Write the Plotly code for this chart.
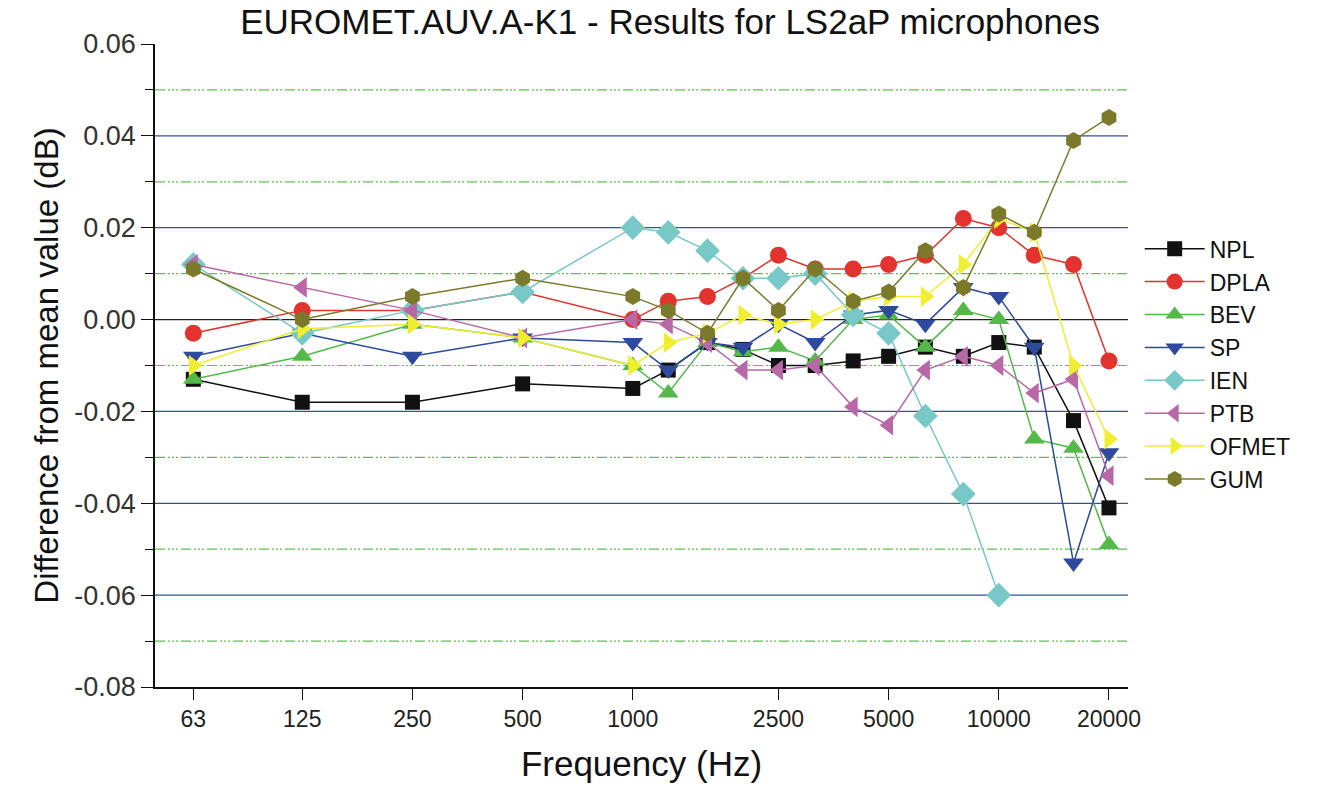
import plotly.graph_objects as go

freqs = [63, 125, 250, 500, 1000, 1250, 1600, 2000, 2500, 3150, 4000, 5000, 6300, 8000, 10000, 12500, 16000, 20000]
x_tick_vals = [63, 125, 250, 500, 1000, 2500, 5000, 10000, 20000]
x_tick_text = ["63", "125", "250", "500", "1000", "2500", "5000", "10000", "20000"]
y_tick_vals = [0.06, 0.04, 0.02, 0.0, -0.02, -0.04, -0.06, -0.08]
y_tick_text = ["0.06", "0.04", "0.02", "0.00", "-0.02", "-0.04", "-0.06", "-0.08"]
major_grid_levels = [0.04, 0.02, -0.02, -0.04, -0.06]
minor_grid_levels = [0.05, 0.03, 0.01, -0.01, -0.03, -0.05, -0.07]

npl   = [-0.013, -0.018, -0.018, -0.014, -0.015, -0.011, -0.005, -0.0065, -0.010, -0.010, -0.009, -0.008, -0.006, -0.008, -0.005, -0.006, -0.022, -0.041]
dpla  = [-0.003, 0.002, 0.002, 0.006, 0.000, 0.004, 0.005, 0.009, 0.014, 0.011, 0.011, 0.012, 0.014, 0.022, 0.020, 0.014, 0.012, -0.009]
bev   = [-0.013, -0.008, -0.001, -0.004, -0.010, -0.016, -0.005, -0.007, -0.006, -0.009, 0.000, 0.001, -0.006, 0.002, 0.000, -0.026, -0.028, -0.049]
sp    = [-0.008, -0.003, -0.008, -0.004, -0.005, -0.011, -0.005, -0.006, -0.001, -0.005, 0.001, 0.002, -0.001, 0.007, 0.005, -0.006, -0.053, -0.029]
ien   = [0.012, -0.003, 0.002, 0.006, 0.020, 0.019, 0.015, 0.009, 0.009, 0.010, 0.001, -0.003, -0.021, -0.038, -0.060, None, None, None]
ptb   = [0.012, 0.007, 0.002, -0.004, 0.000, -0.001, -0.005, -0.011, -0.011, -0.010, -0.019, -0.023, -0.011, -0.008, -0.010, -0.016, -0.013, -0.034]
ofmet = [-0.010, -0.002, -0.001, -0.004, -0.010, -0.005, -0.003, 0.001, -0.001, 0.000, 0.004, 0.005, 0.005, 0.012, 0.022, 0.019, -0.010, -0.026]
gum   = [0.011, 0.000, 0.005, 0.009, 0.005, 0.002, -0.003, 0.009, 0.002, 0.011, 0.004, 0.006, 0.015, 0.007, 0.023, 0.019, 0.039, 0.044]

series = [
    ("NPL", npl, "#111111", "square", 15),
    ("DPLA", dpla, "#e2332e", "circle", 17),
    ("BEV", bev, "#54b948", "triangle-up", 18),
    ("SP", sp, "#2d4a9c", "triangle-down", 18),
    ("IEN", ien, "#78c8c8", "diamond", 19),
    ("PTB", ptb, "#b868a6", "triangle-left", 18),
    ("OFMET", ofmet, "#f0ee30", "triangle-right", 18),
    ("GUM", gum, "#7b7a2b", "hexagon", 17),
]

fig = go.Figure()
for name, vals, color, sym, sz in series:
    fig.add_trace(go.Scatter(
        x=freqs, y=vals, name=name, mode="lines+markers",
        line=dict(color=color, width=1.5),
        marker=dict(symbol=sym, size=sz, color=color, line=dict(width=0)),
    ))

shapes = []
for lv in minor_grid_levels:
    shapes.append(dict(type="line", xref="paper", x0=0, x1=1, yref="y", y0=lv, y1=lv,
                       line=dict(color="#5cc346", width=1.2, dash="10px,3px,2px,2px,2px,2px,2px,3px"),
                       layer="below"))
for lv in major_grid_levels:
    shapes.append(dict(type="line", xref="paper", x0=0, x1=1, yref="y", y0=lv, y1=lv,
                       line=dict(color="#3050a8", width=1.3), layer="below"))
shapes.append(dict(type="line", xref="paper", x0=0, x1=1, yref="y", y0=0, y1=0,
                   line=dict(color="#222222", width=1.3), layer="below"))

font_main = "Liberation Sans, Arial, sans-serif"
fig.update_layout(
    width=1319, height=792,
    paper_bgcolor="white", plot_bgcolor="white",
    margin=dict(l=155, r=191, t=44, b=105),
    shapes=shapes,
    title=dict(text="EUROMET.AUV.A-K1 - Results for LS2aP microphones",
               x=0.508, xanchor="center", y=0.972, yanchor="middle",
               font=dict(family=font_main, size=35, color="#111")),
    font=dict(family=font_main, color="#222"),
    showlegend=True,
    legend=dict(x=1.012, xanchor="left", y=0.715, yanchor="top",
                font=dict(size=23, color="#111"), bgcolor="rgba(0,0,0,0)",
                itemwidth=60, tracegroupgap=0),
    xaxis=dict(type="log", range=[1.6946, 4.353],
               tickvals=x_tick_vals, ticktext=x_tick_text,
               ticks="outside", ticklen=11, tickcolor="#111",
               showline=True, linecolor="#111", linewidth=1.5,
               showgrid=False, zeroline=False,
               tickfont=dict(family=font_main, size=23, color="#222"),
               title=dict(text="Frequency (Hz)", font=dict(size=35, color="#111"), standoff=20)),
    yaxis=dict(range=[-0.08, 0.06],
               tickvals=y_tick_vals, ticktext=y_tick_text,
               ticks="outside", ticklen=12, tickcolor="#111",
               showline=True, linecolor="#111", linewidth=1.5,
               showgrid=False, zeroline=False,
               tickfont=dict(size=27, color="#333"),
               minor=dict(dtick=0.01, tick0=0.0, ticks="outside", ticklen=8, tickcolor="#111",
                          showgrid=False),
               title=dict(text="Difference from mean value (dB)", font=dict(size=33, color="#111"), standoff=6)),
)

fig.write_html("out.html")
